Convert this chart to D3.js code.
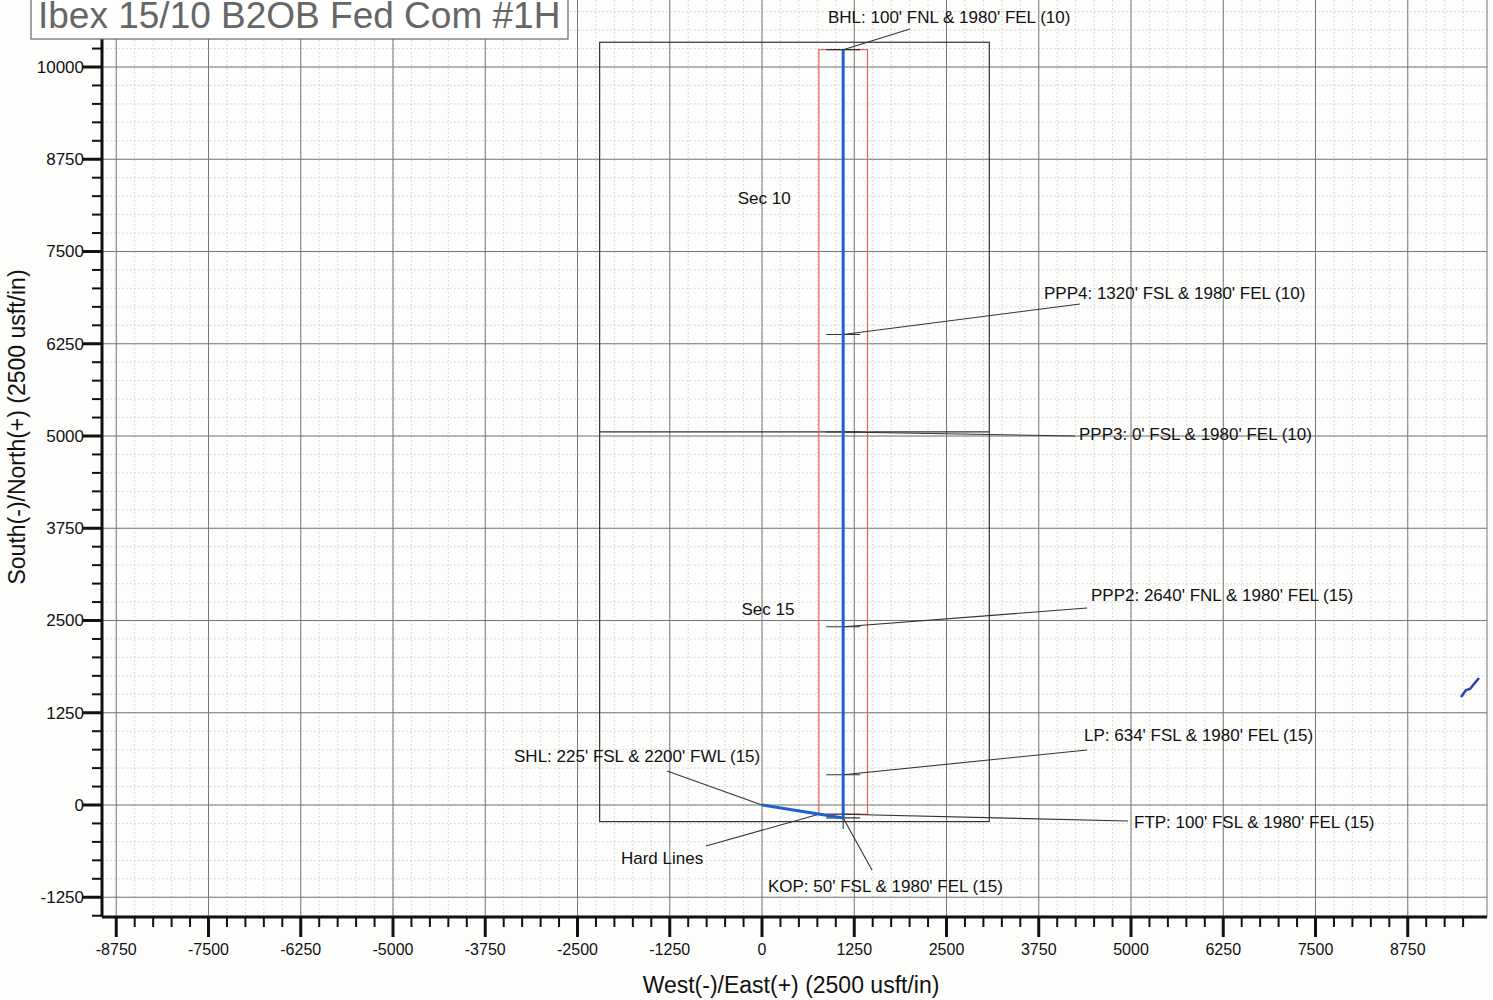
<!DOCTYPE html>
<html>
<head>
<meta charset="utf-8">
<script src="https://cdn.jsdelivr.net/npm/d3@7"></script>
<style>
  body { margin: 0; background: #fdfdfc; }
  svg { display: block; font-family: "Liberation Sans", Arial, sans-serif; }
</style>
</head>
<body>
<div id="chart"></div>
<script>
// well stations (usft, relative to SHL)
const stationNames = ["SHL", "KOP", "FTP", "LP", "PPP2", "PPP3", "PPP4", "BHL"];
const stationEast  = [0, 1100, 1100, 1100, 1100, 1100, 1100, 1100];
const stationNorth = [0, -175, -125, 409, 2415, 5055, 6375, 10235];
const stationLabels = [
  "SHL: 225' FSL & 2200' FWL (15)",
  "KOP: 50' FSL & 1980' FEL (15)",
  "FTP: 100' FSL & 1980' FEL (15)",
  "LP: 634' FSL & 1980' FEL (15)",
  "PPP2: 2640' FNL & 1980' FEL (15)",
  "PPP3: 0' FSL & 1980' FEL (10)",
  "PPP4: 1320' FSL & 1980' FEL (10)",
  "BHL: 100' FNL & 1980' FEL (10)"
];
// leader end / text anchor (usft)
const leaderEast  = [-1287, 1490, 4959, 4404, 4404, 4241, 4309, 2005];
const leaderNorth = [461, -881, -217, 745, 2669, 5000, 6789, 10515];
const textEast    = [-3360, 81, 5041, 4363, 4458, 4295, 3821, 894];
const textNorth   = [583, -1179, -312, 867, 2764, 4946, 6856, 10596];

// section and hard line boxes
const sectionEast = [-2200, 3080];
const sectionNorth = [-225, 5055, 10335];
const hardEast = [770, 1430];
const hardNorth = [-125, 10235];

const xTicks = [-8750, -7500, -6250, -5000, -3750, -2500, -1250, 0, 1250, 2500, 3750, 5000, 6250, 7500, 8750];
const yTicks = [-1250, 0, 1250, 2500, 3750, 5000, 6250, 7500, 8750, 10000];

const W = 1493, H = 1000;
const k = 0.0738; // px per usft
const x = d3.scaleLinear().domain([0, 1000]).range([762, 762 + 1000 * k]);
const y = d3.scaleLinear().domain([0, 1000]).range([805, 805 - 1000 * k]);
const xMin = x.invert(102), xMax = x.invert(1487);
const yMin = y.invert(917), yMax = y.invert(0);

const svg = d3.select("#chart").append("svg").attr("width", W).attr("height", H);

// minor grid
const minorX = d3.range(-8750, 9750, 250);
const minorY = d3.range(-1500, 10900, 250);
svg.append("g").selectAll("line").data(minorX).join("line")
  .attr("x1", d => x(d)).attr("x2", d => x(d))
  .attr("y1", y(yMax)).attr("y2", y(yMin))
  .attr("stroke", "#c4c4c4").attr("stroke-width", 0.8).attr("stroke-dasharray", "1.5,2.5");
svg.append("g").selectAll("line").data(minorY).join("line")
  .attr("x1", x(xMin)).attr("x2", x(xMax))
  .attr("y1", d => y(d)).attr("y2", d => y(d))
  .attr("stroke", "#c4c4c4").attr("stroke-width", 0.8).attr("stroke-dasharray", "1.5,2.5");

// major grid
svg.append("g").selectAll("line").data(xTicks).join("line")
  .attr("x1", d => x(d)).attr("x2", d => x(d))
  .attr("y1", y(yMax)).attr("y2", y(yMin))
  .attr("stroke", "#777").attr("stroke-width", 1);
svg.append("g").selectAll("line").data(yTicks).join("line")
  .attr("x1", x(xMin)).attr("x2", x(xMax))
  .attr("y1", d => y(d)).attr("y2", d => y(d))
  .attr("stroke", "#777").attr("stroke-width", 1);
svg.append("line")
  .attr("x1", x(xMax)).attr("x2", x(xMax)).attr("y1", 0).attr("y2", y(yMin))
  .attr("stroke", "#777");

// section box + section line
svg.append("rect")
  .attr("x", x(sectionEast[0])).attr("y", y(sectionNorth[2]))
  .attr("width", x(sectionEast[1]) - x(sectionEast[0]))
  .attr("height", y(sectionNorth[0]) - y(sectionNorth[2]))
  .attr("fill", "none").attr("stroke", "#333").attr("stroke-width", 1.2);
svg.append("line")
  .attr("x1", x(sectionEast[0])).attr("x2", x(sectionEast[1]))
  .attr("y1", y(sectionNorth[1])).attr("y2", y(sectionNorth[1]))
  .attr("stroke", "#333").attr("stroke-width", 1.2);

// hard lines
svg.append("rect")
  .attr("x", x(hardEast[0])).attr("y", y(hardNorth[1]))
  .attr("width", x(hardEast[1]) - x(hardEast[0]))
  .attr("height", y(hardNorth[0]) - y(hardNorth[1]))
  .attr("fill", "none").attr("stroke", "#e8605a").attr("stroke-width", 1.2);

svg.append("text").text("Sec 10")
  .attr("x", x(30)).attr("y", y(8150)).attr("text-anchor", "middle")
  .style("font-size", "17px").attr("fill", "#111");
svg.append("text").text("Sec 15")
  .attr("x", x(80)).attr("y", y(2580)).attr("text-anchor", "middle")
  .style("font-size", "17px").attr("fill", "#111");

// leaders
const ann = svg.append("g");
stationNames.forEach((name, i) => {
  ann.append("line")
    .attr("x1", x(stationEast[i])).attr("y1", y(stationNorth[i]))
    .attr("x2", x(leaderEast[i])).attr("y2", y(leaderNorth[i]))
    .attr("stroke", "#333").attr("stroke-width", 1.1);
  if (i > 0) {
    ann.append("line")
      .attr("x1", x(stationEast[i] - 230)).attr("x2", x(stationEast[i] + 230))
      .attr("y1", y(stationNorth[i])).attr("y2", y(stationNorth[i]))
      .attr("stroke", "#333").attr("stroke-width", 1.1);
  }
  ann.append("text").text(stationLabels[i])
    .attr("x", x(textEast[i])).attr("y", y(textNorth[i]))
    .style("font-size", "17px").attr("fill", "#111");
});
// KOP cross
ann.append("line")
  .attr("x1", x(1100)).attr("x2", x(1100))
  .attr("y1", y(-175 + 150)).attr("y2", y(-175 - 150))
  .attr("stroke", "#333");
// hard lines label
ann.append("line")
  .attr("x1", x(-759)).attr("y1", y(-556))
  .attr("x2", x(hardEast[0])).attr("y2", y(hardNorth[0]))
  .attr("stroke", "#333").attr("stroke-width", 1.1);
ann.append("text").text("Hard Lines")
  .attr("x", x(-1911)).attr("y", y(-799))
  .style("font-size", "17px").attr("fill", "#111");

// well path
svg.append("path")
  .datum(d3.range(stationNames.length).filter(i => i !== 2))
  .attr("d", d3.line().x(i => x(stationEast[i])).y(i => y(stationNorth[i])))
  .attr("fill", "none").attr("stroke", "#1f5fd0").attr("stroke-width", 3);

// axes
const xAxis = svg.append("g").attr("transform", `translate(0,${y(yMin)})`);
xAxis.append("line").attr("x1", x(xMin)).attr("x2", x(xMax)).attr("stroke", "#111").attr("stroke-width", 3);
xAxis.selectAll(".mt").data(minorX.filter(d => d <= 9500)).join("line")
  .attr("x1", d => x(d)).attr("x2", d => x(d)).attr("y1", 0)
  .attr("y2", d => xTicks.includes(d) ? 20 : 10)
  .attr("stroke", "#111").attr("stroke-width", d => xTicks.includes(d) ? 3 : 2);
xAxis.selectAll("text").data(xTicks).join("text")
  .text(d => d).attr("x", d => x(d)).attr("y", 38)
  .attr("text-anchor", "middle").style("font-size", "16px").attr("fill", "#111");

const yAxis = svg.append("g").attr("transform", `translate(${x(xMin)},0)`);
yAxis.append("line").attr("y1", y(yMin)).attr("y2", y(yMax)).attr("stroke", "#111").attr("stroke-width", 3);
yAxis.selectAll(".mt").data(minorY).join("line")
  .attr("y1", d => y(d)).attr("y2", d => y(d)).attr("x1", 0)
  .attr("x2", d => yTicks.includes(d) ? -19 : -10)
  .attr("stroke", "#111").attr("stroke-width", d => yTicks.includes(d) ? 3 : 2);
yAxis.selectAll("text").data(yTicks).join("text")
  .text(d => d).attr("x", -18).attr("y", d => y(d)).attr("dy", "0.35em")
  .attr("text-anchor", "end").style("font-size", "17px").attr("fill", "#111");

svg.append("text").text("West(-)/East(+) (2500 usft/in)")
  .attr("x", 791).attr("y", 993).attr("text-anchor", "middle")
  .style("font-size", "23px").attr("fill", "#111");
svg.append("text").text("South(-)/North(+) (2500 usft/in)")
  .attr("transform", "translate(25,427) rotate(-90)").attr("text-anchor", "middle")
  .style("font-size", "23px").attr("fill", "#111");

// title box
svg.append("rect").attr("x", 31).attr("y", -6).attr("width", 537).attr("height", 45)
  .attr("fill", "#fff").attr("stroke", "#666").attr("stroke-width", 1.2);
svg.append("text").text("Ibex 15/10 B2OB Fed Com #1H")
  .attr("x", 38).attr("y", 28)
  .style("font-size", "37px").attr("fill", "#666");

// pen mark on the scan
svg.append("path")
  .attr("d", "M1461,697 L1466,690 L1470,689 L1474,684 L1479,678")
  .attr("fill", "none").attr("stroke", "#2a3fb0").attr("stroke-width", 2.5);
</script>
</body>
</html>
